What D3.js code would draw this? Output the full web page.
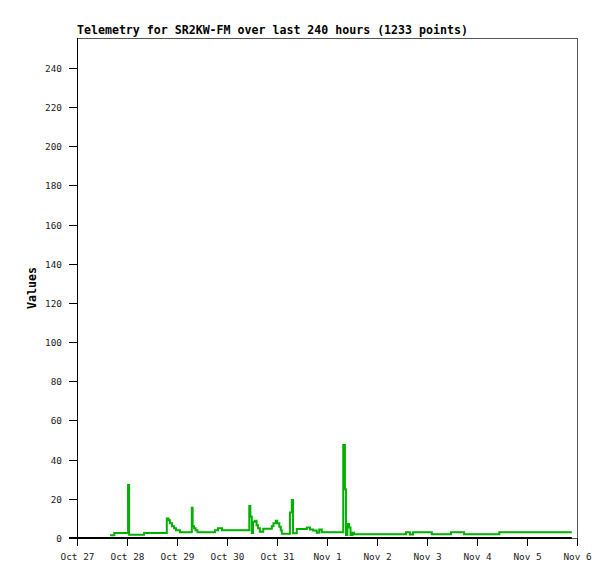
<!DOCTYPE html>
<html><head><meta charset="utf-8">
<script src="https://cdn.jsdelivr.net/npm/d3@7"></script>
<style>
html,body{margin:0;padding:0;background:#fff;}
svg{display:block;}
</style></head>
<body>
<script>
// hours since Oct 27 00:00
const hours = [15.8,17.9,24.5,25.0,32.2,43.1,43.9,44.6,45.6,46.6,47.5,49.4,55.1,55.5,56.2,56.9,57.8,66.2,67.7,69.6,82.7,83.2,83.9,84.5,85.4,86.2,86.9,87.8,89.4,93.5,94.3,95.4,96.1,97.1,97.8,98.3,102.2,103.1,103.7,105.5,110.3,111.8,113.3,115.1,116.3,117.5,127.8,128.6,129.1,129.8,130.6,131.3,132.2,133.0,157.9,159.8,161.3,170.3,179.5,185.8,202.7,237.5];
const values = [1.4,2.6,27,1.6,2.6,10,9,7.5,6,5,4,2.9,15.5,6,5,4,2.9,4,5,4,16.3,11,2.5,8.3,8.8,6.5,5,3.2,4.7,6,7.5,8.8,7.5,5.8,4,2.2,13,19.4,2.4,4.6,5.4,4.4,3.8,2.7,4.4,3,47.5,24.9,1.5,7.1,5.4,1.5,2.7,1.9,2.9,1.8,2.9,1.9,2.9,1.9,2.9,2.9];
const yTicks = [0,20,40,60,80,100,120,140,160,180,200,220,240];
const xTickLabels = ["Oct 27","Oct 28","Oct 29","Oct 30","Oct 31","Nov 1","Nov 2","Nov 3","Nov 4","Nov 5","Nov 6"];
const title = "Telemetry for SR2KW-FM over last 240 hours (1233 points)";

const W=615,H=579, L=77, R=577, T=38, B=538;
const t0 = new Date(2023,9,27,0,0,0);
const toDate = h => new Date(t0.getTime()+h*3600e3);
const svg = d3.select("body").append("svg").attr("width",W).attr("height",H);
const x = d3.scaleTime().domain([t0, toDate(240)]).range([L,R]);
const y = d3.scaleLinear().domain([0,255.3]).range([B,T]);
const mono = "'DejaVu Sans Mono', 'Liberation Mono', monospace";

// frame
svg.append("rect").attr("x",L+0.5).attr("y",T+0.5).attr("width",R-L).attr("height",B-T)
  .attr("fill","none").attr("stroke","#555").attr("stroke-width",1);

// y axis
svg.append("line").attr("x1",L+0.5).attr("x2",L+0.5).attr("y1",T).attr("y2",B+8).attr("stroke","#000");
const yg = svg.append("g");
yTicks.forEach(v=>{
  const yy = Math.round(y(v))+0.5;
  yg.append("line").attr("x1",L-8).attr("x2",L).attr("y1",yy).attr("y2",yy).attr("stroke","#000");
  yg.append("text").attr("x",62).attr("y",yy).attr("dy","0.35em").attr("text-anchor","end")
    .attr("font-family",mono).attr("font-size","9.4px").attr("fill","#222").text(v);
});

// x ticks
const xg = svg.append("g");
xTickLabels.forEach((lab,i)=>{
  const xx = Math.round(x(toDate(i*24)))+0.5;
  xg.append("line").attr("x1",xx).attr("x2",xx).attr("y1",B).attr("y2",B+8).attr("stroke","#000");
  xg.append("text").attr("x",xx).attr("y",560).attr("text-anchor","middle")
    .attr("font-family",mono).attr("font-size","9.4px").attr("fill","#222").text(lab);
});

// zero baseline (black)
svg.append("line").attr("x1",L-8).attr("x2",x(toDate(hours[hours.length-1]))).attr("y1",y(0)).attr("y2",y(0))
  .attr("stroke","#000").attr("stroke-width",2);

// data
const data = hours.map((h,i)=>({d:toDate(h), v:values[i]}));
const line = d3.line().x(d=>x(d.d)).y(d=>y(d.v)).curve(d3.curveStepAfter);
svg.append("path").datum(data).attr("d",line).attr("fill","none")
  .attr("stroke","#00b000").attr("stroke-width",2);

// title
svg.append("text").attr("x",L).attr("y",34).attr("font-family",mono).attr("font-weight","bold")
  .attr("font-size","11.6px").attr("fill","#000").text(title);

// y label
svg.append("text").attr("transform",`translate(36,${(T+B)/2}) rotate(-90)`).attr("text-anchor","middle")
  .attr("font-family",mono).attr("font-weight","bold").attr("font-size","11.6px").attr("fill","#000").text("Values");
</script>
</body></html>
